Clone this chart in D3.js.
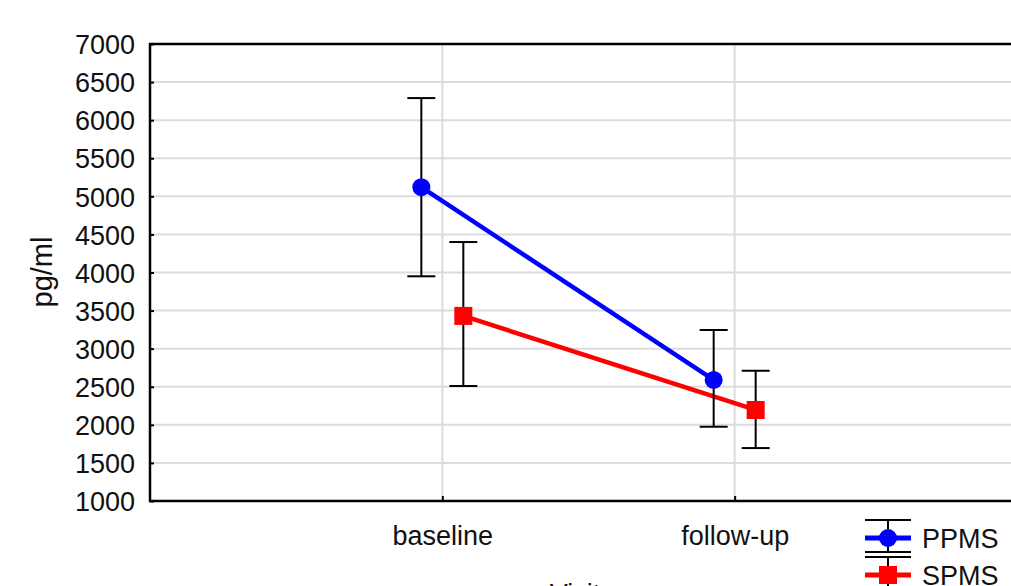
<!DOCTYPE html>
<html><head><meta charset="utf-8">
<script src="https://cdn.jsdelivr.net/npm/d3@7"></script>
<style>body{margin:0;background:#fff;overflow:hidden}svg{display:block}text{font-family:"Liberation Sans",Arial,sans-serif;fill:#111}</style>
</head><body>
<script>
const categories = ["baseline", "follow-up"];
const seriesNames = ["PPMS", "SPMS"];
const seriesColors = ["#0000ff", "#ff0000"];
const ppmsMean = [5120, 2590];
const ppmsLow = [3950, 1975];
const ppmsHigh = [6290, 3245];
const spmsMean = [3430, 2195];
const spmsLow = [2510, 1695];
const spmsHigh = [4400, 2710];
const yTicks = [1000,1500,2000,2500,3000,3500,4000,4500,5000,5500,6000,6500,7000];
const xTitle = "Visit";
const yTitle = "pg/ml";

const W = 1011, H = 586;
const L = 150, R = 1027, T = 44, B = 501;
const svg = d3.select("body").append("svg").attr("width", W).attr("height", H);

const y = d3.scaleLinear().domain([1000, 7000]).range([B, T]);
const x = d3.scalePoint().domain(categories).range([L, R]).padding(1);
const off = d3.scalePoint().domain(seriesNames).range([-21, 21]);

// grid
svg.append("g").selectAll("line").data(yTicks.slice(1)).join("line")
  .attr("x1", L).attr("x2", R).attr("y1", d => y(d)).attr("y2", d => y(d))
  .attr("stroke", "#dcdcdc").attr("stroke-width", 2);
svg.append("g").selectAll("line").data(categories).join("line")
  .attr("x1", d => x(d)).attr("x2", d => x(d)).attr("y1", T).attr("y2", B)
  .attr("stroke", "#dcdcdc").attr("stroke-width", 2);

// axes
const yAxis = d3.axisLeft(y).tickValues(yTicks).tickSize(-4).tickPadding(15).tickFormat(d3.format("d"));
const gy = svg.append("g").attr("transform", `translate(${L},0)`).call(yAxis);
gy.select(".domain").remove();
gy.selectAll(".tick line").attr("stroke", "#000").attr("stroke-width", 2);
gy.selectAll("text").attr("font-size", 27).attr("fill", "#111").attr("dy", "0.36em")
  .attr("font-family", "Liberation Sans, Arial, sans-serif");

const xAxis = d3.axisBottom(x).tickSize(-5).tickPadding(25);
const gx = svg.append("g").attr("transform", `translate(0,${B})`).call(xAxis);
gx.select(".domain").remove();
gx.selectAll(".tick line").attr("stroke", "#000").attr("stroke-width", 2);
gx.selectAll("text").attr("font-size", 27).attr("fill", "#111")
  .attr("font-family", "Liberation Sans, Arial, sans-serif");

// frame
svg.append("rect").attr("x", L).attr("y", T).attr("width", R - L).attr("height", B - T)
  .attr("fill", "none").attr("stroke", "#000").attr("stroke-width", 2.5);

// titles
svg.append("text").attr("transform", "translate(52,272) rotate(-90)")
  .attr("text-anchor", "middle").attr("font-size", 29).text(yTitle);
svg.append("text").attr("x", 575).attr("y", 603).attr("text-anchor", "middle")
  .attr("font-size", 27).text(xTitle);

const series = [
  {name: "PPMS", mean: ppmsMean, low: ppmsLow, high: ppmsHigh, color: seriesColors[0], shape: "circle"},
  {name: "SPMS", mean: spmsMean, low: spmsLow, high: spmsHigh, color: seriesColors[1], shape: "square"}
];

const line = d3.line().x(d => d[0]).y(d => d[1]);
series.forEach(s => {
  const pts = categories.map((c, i) => [x(c) + off(s.name), y(s.mean[i])]);
  svg.append("path").attr("d", line(pts)).attr("fill", "none")
    .attr("stroke", s.color).attr("stroke-width", 4.5);
});
series.forEach(s => {
  const g = svg.append("g");
  categories.forEach((c, i) => {
    const cx = x(c) + off(s.name);
    g.append("line").attr("x1", cx).attr("x2", cx).attr("y1", y(s.low[i])).attr("y2", y(s.high[i]))
      .attr("stroke", "#000").attr("stroke-width", 2);
    [s.low[i], s.high[i]].forEach(v => g.append("line")
      .attr("x1", cx - 14).attr("x2", cx + 14).attr("y1", y(v)).attr("y2", y(v))
      .attr("stroke", "#000").attr("stroke-width", 2));
  });
});
series.forEach(s => {
  categories.forEach((c, i) => {
    const cx = x(c) + off(s.name), cy = y(s.mean[i]);
    if (s.shape === "circle") svg.append("circle").attr("cx", cx).attr("cy", cy).attr("r", 9).attr("fill", s.color);
    else svg.append("rect").attr("x", cx - 9).attr("y", cy - 9).attr("width", 18).attr("height", 18).attr("fill", s.color);
  });
});

// legend
const lg = svg.append("g");
series.forEach((s, i) => {
  const cy = 538 + i * 37;
  const cx = 888;
  lg.append("line").attr("x1", cx).attr("x2", cx).attr("y1", cy - 18).attr("y2", cy + 14).attr("stroke", "#000").attr("stroke-width", 2);
  [cy - 18, cy + 14].forEach(v => lg.append("line").attr("x1", cx - 23).attr("x2", cx + 23)
    .attr("y1", v).attr("y2", v).attr("stroke", "#000").attr("stroke-width", 2));
  lg.append("line").attr("x1", cx - 23).attr("x2", cx + 23).attr("y1", cy).attr("y2", cy)
    .attr("stroke", s.color).attr("stroke-width", 5);
  if (s.shape === "circle") lg.append("circle").attr("cx", cx).attr("cy", cy).attr("r", 9).attr("fill", s.color);
  else lg.append("rect").attr("x", cx - 9).attr("y", cy - 9).attr("width", 18).attr("height", 18).attr("fill", s.color);
  lg.append("text").attr("x", 922).attr("y", cy + 10).attr("font-size", 27).text(s.name);
});
</script>
</body></html>
